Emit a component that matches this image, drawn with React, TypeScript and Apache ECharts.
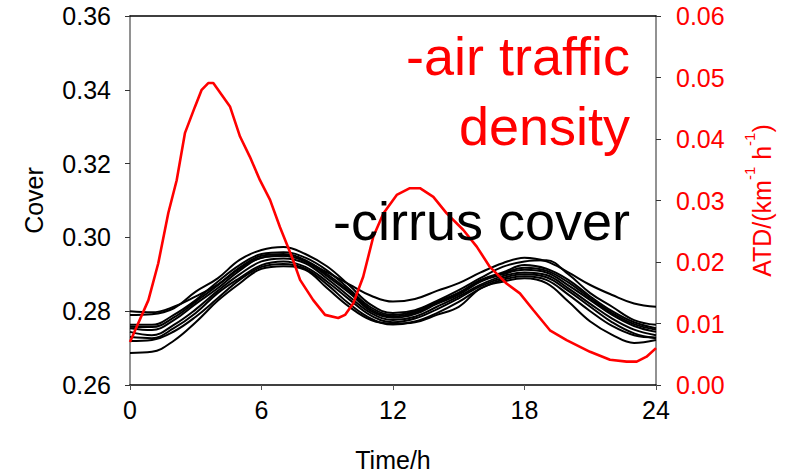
import React, { useEffect, useRef } from "react";
import * as echarts from "echarts";

const hours = [0, 1, 2, 3, 4, 5, 6, 7, 8, 9, 10, 11, 12, 13, 14, 15, 16, 17, 18, 19, 20, 21, 22, 23, 24];

const cover1 = [0.2800, 0.2797, 0.2812, 0.2840, 0.2872, 0.2915, 0.2945, 0.2950, 0.2935, 0.2905, 0.2873, 0.2842, 0.2826, 0.2833, 0.2855, 0.2876, 0.2905, 0.2930, 0.2945, 0.2935, 0.2905, 0.2871, 0.2844, 0.2821, 0.2812];
const cover2 = [0.2790, 0.2792, 0.2808, 0.2853, 0.2889, 0.2939, 0.2966, 0.2974, 0.2955, 0.2921, 0.2870, 0.2817, 0.2795, 0.2803, 0.2828, 0.2857, 0.2890, 0.2920, 0.2935, 0.2938, 0.2900, 0.2849, 0.2812, 0.2776, 0.2763];
const cover3 = [0.2763, 0.2763, 0.2790, 0.2830, 0.2880, 0.2925, 0.2955, 0.2960, 0.2945, 0.2910, 0.2860, 0.2810, 0.2790, 0.2800, 0.2825, 0.2850, 0.2885, 0.2905, 0.2925, 0.2915, 0.2885, 0.2840, 0.2800, 0.2770, 0.2754];
const cover4 = [0.2754, 0.2749, 0.2776, 0.2820, 0.2862, 0.2910, 0.2945, 0.2950, 0.2935, 0.2895, 0.2850, 0.2800, 0.2782, 0.2792, 0.2820, 0.2845, 0.2880, 0.2900, 0.2912, 0.2905, 0.2870, 0.2830, 0.2790, 0.2760, 0.2744];
const cover5 = [0.2744, 0.2735, 0.2763, 0.2805, 0.2855, 0.2900, 0.2935, 0.2943, 0.2930, 0.2888, 0.2840, 0.2795, 0.2776, 0.2785, 0.2812, 0.2840, 0.2872, 0.2895, 0.2905, 0.2898, 0.2862, 0.2820, 0.2780, 0.2750, 0.2735];
const cover6 = [0.2730, 0.2727, 0.2754, 0.2795, 0.2849, 0.2890, 0.2925, 0.2935, 0.2920, 0.2880, 0.2832, 0.2788, 0.2770, 0.2780, 0.2805, 0.2835, 0.2868, 0.2890, 0.2900, 0.2892, 0.2855, 0.2812, 0.2770, 0.2740, 0.2727];
const cover7 = [0.2719, 0.2722, 0.2745, 0.2785, 0.2835, 0.2885, 0.2920, 0.2928, 0.2915, 0.2872, 0.2820, 0.2780, 0.2764, 0.2772, 0.2795, 0.2825, 0.2862, 0.2885, 0.2895, 0.2885, 0.2845, 0.2800, 0.2760, 0.2735, 0.2729];
const cover8 = [0.2687, 0.2690, 0.2720, 0.2770, 0.2828, 0.2875, 0.2915, 0.2922, 0.2912, 0.2862, 0.2812, 0.2776, 0.2766, 0.2770, 0.2790, 0.2812, 0.2862, 0.2880, 0.2889, 0.2876, 0.2826, 0.2772, 0.2736, 0.2714, 0.2722];
const cover9 = [0.2758, 0.2757, 0.2783, 0.2826, 0.2870, 0.2918, 0.2950, 0.2955, 0.2938, 0.2900, 0.2855, 0.2805, 0.2786, 0.2796, 0.2822, 0.2848, 0.2882, 0.2902, 0.2918, 0.2910, 0.2878, 0.2835, 0.2795, 0.2765, 0.2750];
const coverSeries = [cover1, cover2, cover3, cover4, cover5, cover6, cover7, cover8, cover9];

const atdHours = [0, 0.84, 1.29, 1.75, 2.13, 2.51, 2.97, 3.27, 3.57, 3.80, 4.56, 5.02, 5.47, 5.93, 6.39, 6.84, 7.38, 7.76, 8.36, 8.90, 9.50, 9.81, 10.19, 10.64, 11.10, 11.56, 12.17, 12.77, 13.23, 13.84, 14.45, 15.21, 15.82, 16.42, 17.18, 17.79, 18.40, 19.16, 19.92, 20.99, 21.90, 22.66, 23.12, 23.57, 24];
const atdValues = [0.0070, 0.0138, 0.0198, 0.0280, 0.0333, 0.0410, 0.0453, 0.0480, 0.0491, 0.0491, 0.0453, 0.0404, 0.0371, 0.0333, 0.0301, 0.0257, 0.0209, 0.0171, 0.0138, 0.0114, 0.0109, 0.0114, 0.0133, 0.0176, 0.0241, 0.0279, 0.0309, 0.0320, 0.0320, 0.0306, 0.0279, 0.0252, 0.0225, 0.0192, 0.0165, 0.0149, 0.0122, 0.0089, 0.0073, 0.0054, 0.0041, 0.0038, 0.0038, 0.0046, 0.0060];

const xTicks = [0, 6, 12, 18, 24];

const FONT = "'Liberation Sans', Arial, sans-serif";

export default function App() {
  const ref = useRef<HTMLDivElement>(null);
  useEffect(() => {
    if (!ref.current) return;
    const chart = echarts.init(ref.current, null, { renderer: "svg" });
    const blackSeries = coverSeries.map((arr, i) => ({
      type: "line",
      name: "cover" + (i + 1),
      xAxisIndex: 0,
      yAxisIndex: 0,
      data: hours.map((h, j) => [h, arr[j]]),
      showSymbol: false,
      smooth: 0.4,
      lineStyle: { color: "#000", width: 2 },
      z: 2,
    }));
    chart.setOption({
      animation: false,
      textStyle: { fontFamily: FONT },
      grid: {
        left: 130,
        right: 131,
        top: 16,
        bottom: 88,
        containLabel: false,
        outerBoundsMode: "none",
      },
      xAxis: [
        {
          type: "value",
          min: xTicks[0],
          max: xTicks[xTicks.length - 1],
          interval: 6,
          name: "Time/h",
          nameLocation: "middle",
          nameGap: 62,
          nameTextStyle: { fontSize: 25, color: "#000", fontFamily: FONT },
          axisLine: { show: true, onZero: false, lineStyle: { color: "#000", width: 1.5 } },
          axisTick: { show: true, length: 5, lineStyle: { color: "#555" } },
          axisLabel: { fontSize: 25, color: "#000", margin: 12, fontFamily: FONT },
          splitLine: { show: false },
        },
        {
          type: "value",
          position: "top",
          min: 0,
          max: 24,
          axisLine: { show: true, onZero: false, lineStyle: { color: "#000", width: 1.5 } },
          axisTick: { show: false },
          axisLabel: { show: false },
          splitLine: { show: false },
        },
      ],
      yAxis: [
        {
          type: "value",
          position: "left",
          min: 0.26,
          max: 0.36,
          interval: 0.02,
          name: "Cover",
          nameLocation: "middle",
          nameRotate: 90,
          nameGap: 84,
          nameTextStyle: { fontSize: 25, color: "#000", fontFamily: FONT },
          axisLine: { show: true, onZero: false, lineStyle: { color: "#6e6e6e", width: 1.5 } },
          axisTick: { show: true, length: 5, lineStyle: { color: "#333" } },
          axisLabel: {
            fontSize: 25,
            color: "#000",
            margin: 19,
            fontFamily: FONT,
            formatter: (v: number) => v.toFixed(2),
          },
          splitLine: { show: false },
        },
        {
          type: "value",
          position: "right",
          min: 0,
          max: 0.06,
          interval: 0.01,
          name: "{a|ATD/(km}{s|-1}{a| h}{s|-1}{a|)}",
          nameLocation: "middle",
          nameRotate: 90,
          nameGap: 86,
          nameTextStyle: {
            color: "#ff0000",
            fontFamily: FONT,
            rich: {
              a: { fontSize: 25, color: "#ff0000", fontFamily: FONT, verticalAlign: "bottom", lineHeight: 32 },
              s: { fontSize: 15, color: "#ff0000", fontFamily: FONT, verticalAlign: "top", lineHeight: 32 },
            },
          },
          axisLine: { show: true, onZero: false, lineStyle: { color: "#6e6e6e", width: 1.5 } },
          axisTick: { show: true, length: 5, lineStyle: { color: "#333" } },
          axisLabel: {
            fontSize: 25,
            color: "#ff0000",
            margin: 20,
            fontFamily: FONT,
            formatter: (v: number) => v.toFixed(2),
          },
          splitLine: { show: false },
        },
      ],
      graphic: [
        {
          type: "text",
          right: 157,
          top: 29,
          style: { text: "-air traffic", font: "54px " + FONT, fill: "#ff0000" },
          z: 10,
        },
        {
          type: "text",
          right: 157,
          top: 99,
          style: { text: "density", font: "54px " + FONT, fill: "#ff0000" },
          z: 10,
        },
        {
          type: "text",
          right: 157,
          top: 194,
          style: { text: "-cirrus cover", font: "54px " + FONT, fill: "#000" },
          z: 10,
        },
      ],
      series: [
        ...blackSeries,
        {
          type: "line",
          name: "ATD",
          xAxisIndex: 0,
          yAxisIndex: 1,
          data: atdHours.map((h, j) => [h, atdValues[j]]),
          showSymbol: false,
          smooth: false,
          lineStyle: { color: "#ff0000", width: 2.6 },
          z: 3,
        },
      ],
    });
    return () => chart.dispose();
  }, []);
  return (
    <div
      ref={ref}
      style={{ position: "fixed", left: 0, top: 0, width: 787, height: 473, background: "#fff" }}
    />
  );
}
